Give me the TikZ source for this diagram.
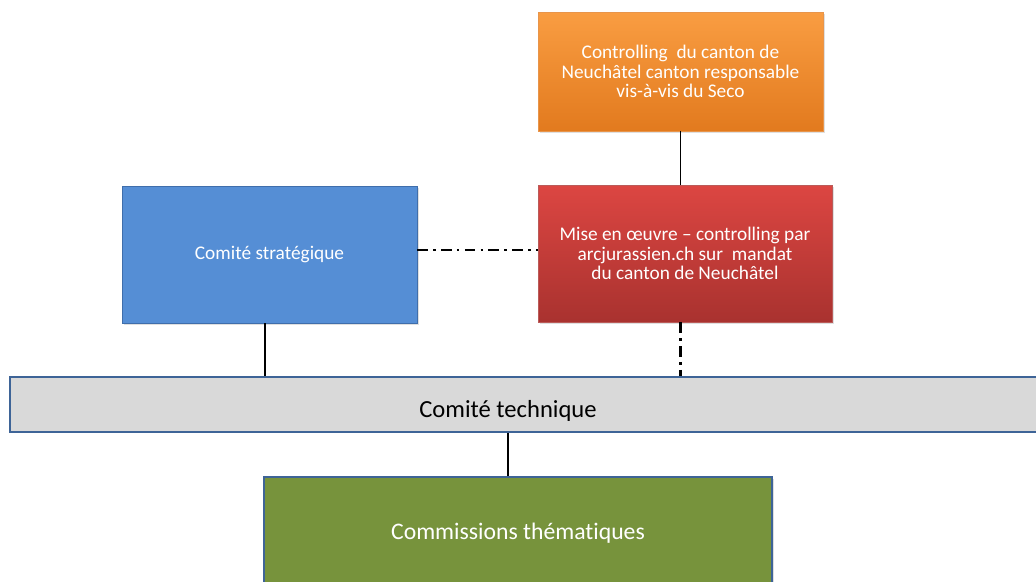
\documentclass[tikz,border=0pt]{standalone}
\usepackage{fontspec}
\setmainfont{Carlito}[Ligatures={NoCommon,TeX}]
\usetikzlibrary{shadows}
\definecolor{ctrltop}{HTML}{F99D42}
\definecolor{ctrlbot}{HTML}{E27A1E}
\definecolor{impltop}{HTML}{DC4642}
\definecolor{implbot}{HTML}{A9322F}
\definecolor{stratfill}{HTML}{558ED5}
\definecolor{stratline}{HTML}{3F6EAB}
\definecolor{techfill}{HTML}{D9D9D9}
\definecolor{techline}{HTML}{3E6497}
\definecolor{commfill}{HTML}{77933C}
\begin{document}
\begin{tikzpicture}[x=0.02cm,y=-0.02cm,
    box/.style={rectangle,inner sep=2pt,align=center,text=white,font=\fontsize{11}{11.2}\selectfont,
      drop shadow={shadow xshift=1pt,shadow yshift=-1pt,opacity=0.25}},
    linkline/.style={line width=1.1pt},
    dashdot/.style={line width=1.2pt,dash pattern=on 6pt off 3pt on 1.5pt off 3pt}]
    \useasboundingbox (0,0) rectangle (1036,582);
    \node[box,top color=ctrltop,bottom color=ctrlbot,draw=ctrlbot!80!white,minimum width=5.7cm,minimum height=2.38cm] (ctrl) at (680.5,71.5)
        {Controlling\ \ du canton de\\Neuchâtel canton responsable\\vis-à-vis du Seco};
    \node[box,top color=impltop,bottom color=implbot,draw=implbot!80!white,minimum width=5.88cm,minimum height=2.74cm] (impl) at (685,253.5)
        {Mise en œuvre -- controlling par\\arcjurassien.ch sur\ \ mandat\\du canton de Neuchâtel};
    \node[box,fill=stratfill,draw=stratline,minimum width=5.9cm,minimum height=2.74cm] (strat) at (269.5,254.5) {Comité stratégique};
    \node[rectangle,fill=techfill,draw=techline,line width=1pt,minimum width=21.2cm,minimum height=1.1cm] (tech) at (540,404.5) {};
    \node[font=\fontsize{14}{16}\selectfont] (techlabel) at (508,411) {Comité technique};
    \node[box,fill=commfill,draw=techline,line width=1pt,minimum width=10.16cm,minimum height=2.8cm] (comm) at (518,547) {};
    \node[text=white,font=\fontsize{13.5}{14}\selectfont] (commlabel) at (518,533) {Commissions thématiques};
    \draw[linkline] (ctrl.south) -- (ctrl.south |- impl.north);
    \draw[dashdot] (strat.east |- 0,250) -- (impl.west |- 0,250);
    \draw[dashdot] (ctrl.south |- impl.south) -- (ctrl.south |- tech.north);
    \draw[linkline] (265,0 |- strat.south) -- (265,0 |- tech.north);
    \draw[linkline] (508,0 |- tech.south) -- (508,0 |- comm.north);
\end{tikzpicture}
\end{document}
